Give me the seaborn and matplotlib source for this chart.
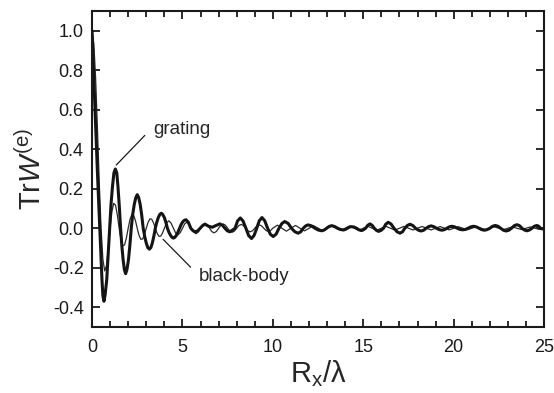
import numpy as np
import pandas as pd
import seaborn as sns
import matplotlib
matplotlib.use('Agg')
import matplotlib.pyplot as plt
from matplotlib.ticker import MultipleLocator

# black-body curve (thin line)
bb_x = np.concatenate([np.arange(0, 4.01, 0.1),
                       np.arange(4.125, 10.001, 0.125),
                       np.arange(10.25, 25.01, 0.25)])
bb_y = [1.0, 0.9355, 0.7568, 0.5046, 0.2339, 0.0, -0.1559, -0.2162, -0.1892, -0.1039,
        0.0, 0.0850, 0.1261, 0.1164, 0.0668, 0.0, -0.0585, -0.0890, -0.0841, -0.0492,
        0.0, 0.0446, 0.0688, 0.0658, 0.0390, 0.0, -0.0360, -0.0561, -0.0541, -0.0323,
        0.0, 0.0302, 0.0473, 0.0459, 0.0275, 0.0, -0.0260, -0.0409, -0.0398, -0.0240,
        0.0,
        0.0273, 0.0374, 0.0257, 0.0, -0.0243, -0.0335, -0.0231, 0.0,
        0.0220, 0.0303, 0.0209, 0.0, -0.0200, -0.0277, -0.0192, 0.0,
        0.0184, 0.0255, 0.0177, 0.0, -0.0170, -0.0236, -0.0164, 0.0,
        0.0158, 0.0220, 0.0153, 0.0, -0.0148, -0.0205, -0.0143, 0.0,
        0.0139, 0.0193, 0.0134, 0.0, -0.0130, -0.0182, -0.0127, 0.0,
        0.0123, 0.0172, 0.0120, 0.0, -0.0117, -0.0163, -0.0114, 0.0,
        0.0155, 0.0, -0.0148, 0.0, 0.0141, 0.0, -0.0135, 0.0, 0.0130, 0.0, -0.0125, 0.0,
        0.0120, 0.0, -0.0116, 0.0, 0.0112, 0.0, -0.0108, 0.0, 0.0104, 0.0, -0.0101, 0.0,
        0.0098, 0.0, -0.0095, 0.0, 0.0092, 0.0, -0.0090, 0.0, 0.0087, 0.0, -0.0085, 0.0,
        0.0083, 0.0, -0.0081, 0.0, 0.0079, 0.0, -0.0077, 0.0, 0.0075, 0.0, -0.0073, 0.0,
        0.0072, 0.0, -0.0070, 0.0, 0.0068, 0.0, -0.0067, 0.0, 0.0066, 0.0, -0.0064, 0.0]

# grating curve (thick line)
gr_x = [0.0, 0.1, 0.2, 0.3, 0.4, 0.45, 0.5, 0.55, 0.6, 0.66, 0.72, 0.815, 0.9, 0.97,
        1.05, 1.13, 1.21, 1.29, 1.37, 1.435, 1.51, 1.58, 1.65, 1.72, 1.79, 1.86, 1.93,
        2.015, 2.09, 2.17, 2.25, 2.335, 2.42, 2.5, 2.58, 2.665, 2.75, 2.83, 2.92, 3.0,
        3.085, 3.17, 3.255, 3.335, 3.42, 3.5, 3.58, 3.665, 3.75, 3.83, 3.91, 4.0, 4.085,
        4.17, 4.25, 4.335, 4.42, 4.5, 4.585, 4.67, 4.755, 4.84, 4.92, 5.0, 5.1, 5.2,
        5.33, 5.46, 5.59, 5.72, 5.85, 5.98, 6.12, 6.25, 6.45, 6.65, 6.86, 7.07, 7.21,
        7.35, 7.48, 7.62, 7.76, 7.91, 8.05, 8.2, 8.35, 8.51, 8.66, 8.82, 8.96, 9.11,
        9.25, 9.4, 9.55, 9.71, 9.86, 10.02, 10.18, 10.34, 10.5, 10.66, 10.85, 11.03,
        11.22, 11.4, 11.54, 11.68, 11.82, 11.95, 12.14, 12.33, 12.51, 12.7, 12.84,
        12.98, 13.11, 13.25, 13.41, 13.58, 13.74, 13.9, 14.01, 14.13, 14.24, 14.35,
        14.49, 14.63, 14.76, 14.9, 15.01, 15.13, 15.25, 15.37, 15.49, 15.61, 15.73,
        15.85, 15.98, 16.12, 16.25, 16.38, 16.54, 16.7, 16.87, 17.03, 17.17, 17.3,
        17.44, 17.58, 17.74, 17.89, 18.05, 18.2, 18.34, 18.48, 18.61, 18.75, 18.9,
        19.05, 19.2, 19.35, 19.49, 19.62, 19.76, 19.9, 20.05, 20.2, 20.35, 20.5, 20.65,
        20.8, 20.95, 21.1, 21.25, 21.4, 21.55, 21.7, 21.85, 22.0, 22.15, 22.3, 22.45,
        22.6, 22.75, 22.9, 23.05, 23.2, 23.35, 23.5, 23.64, 23.78, 23.91, 24.05, 24.19,
        24.33, 24.46, 24.6, 24.7, 24.8, 24.9, 25.0]
gr_y = [1.0, 0.76, 0.52, 0.28, 0.06, -0.05, -0.16, -0.26, -0.34, -0.37, -0.34, -0.26,
        -0.12, 0.0, 0.12, 0.21, 0.28, 0.30, 0.28, 0.21, 0.11, 0.0, -0.09, -0.16, -0.21,
        -0.23, -0.21, -0.16, -0.09, 0.0, 0.07, 0.12, 0.155, 0.17, 0.155, 0.12, 0.065, 0.0,
        -0.045, -0.075, -0.098, -0.106, -0.098, -0.075, -0.04, 0.0, 0.03, 0.054, 0.07,
        0.076, 0.07, 0.054, 0.03, 0.0, -0.02, -0.035, -0.046, -0.05, -0.046, -0.035,
        -0.019, 0.0, 0.017, 0.03, 0.04, 0.043,
        0.03, 0.0, -0.013, -0.018, -0.013, 0.0, 0.014, 0.02, 0.01, 0.005, 0.014, 0.022,
        0.015, 0.0, -0.013, -0.018, -0.01, 0.0, 0.037, 0.052, 0.037, 0.0, -0.037, -0.052,
        -0.037, 0.0, 0.038, 0.054, 0.038, 0.0, -0.03, -0.042, -0.03, 0.0, 0.024, 0.034,
        0.024, 0.0, -0.018, -0.025, -0.018, 0.0, 0.012, 0.017, 0.012, 0.0, -0.009,
        -0.013, -0.009, 0.0, 0.009, 0.013, 0.009, 0.0, -0.006, -0.009, -0.006, 0.0,
        0.006, 0.008, 0.006, 0.0, -0.008, -0.012, -0.008, 0.0, 0.015, 0.022, 0.015, 0.0,
        -0.011, -0.016, -0.011, 0.0, 0.021, 0.03, 0.021, 0.0, -0.018, -0.025, -0.018,
        0.0, 0.014, 0.02, 0.014, 0.0, -0.01, -0.014, -0.01, 0.0, 0.008, 0.012, 0.008,
        0.0, -0.007, -0.01, -0.007, 0.0, 0.007, 0.01, 0.007, 0.0, -0.006, -0.008, -0.006,
        0.0, 0.007, 0.01, 0.007, 0.0, -0.007, -0.01, -0.007, 0.0, 0.01, 0.014, 0.01,
        0.0, -0.01, -0.014, -0.01, 0.0, 0.013, 0.018, 0.013, 0.0, -0.009, -0.013, -0.009,
        0.0, 0.01, 0.014, 0.01, 0.0, -0.003, -0.004]

bb = pd.DataFrame({'x': bb_x, 'y': bb_y})
gr = pd.DataFrame({'x': gr_x, 'y': gr_y})

sns.set_style('ticks')
plt.rcParams['font.family'] = ['Liberation Sans', 'DejaVu Sans']
plt.rcParams['mathtext.fontset'] = 'custom'
plt.rcParams['mathtext.rm'] = 'Liberation Sans'
plt.rcParams['mathtext.it'] = 'Liberation Sans:italic'

fig = plt.figure(figsize=(5.54, 3.93), dpi=100)
ax = fig.add_axes([0.1661, 0.168, 0.816, 0.804])

sns.lineplot(data=bb, x='x', y='y', sort=False, estimator=None, color='#2a2a2a', lw=0.9, ax=ax)
sns.lineplot(data=gr, x='x', y='y', sort=False, estimator=None, color='#141414', lw=2.2, ax=ax)

ax.set_xlim(0, 25)
ax.set_ylim(-0.5, 1.1)
ax.xaxis.set_major_locator(MultipleLocator(5))
ax.xaxis.set_minor_locator(MultipleLocator(1))
ax.set_yticks(np.arange(-0.4, 1.01, 0.2))
ax.set_yticklabels(['-0.4', '-0.2', '0.0', '0.2', '0.4', '0.6', '0.8', '1.0'])

ax.tick_params(which='both', direction='in', top=True, right=True, colors='#1a1a1a',
               labelsize=13, width=1.3)
ax.tick_params(which='major', length=6)
ax.tick_params(which='minor', length=4)
ax.tick_params(axis='x', pad=9)
ax.tick_params(axis='y', pad=6)
for s in ax.spines.values():
    s.set_linewidth(1.5)
    s.set_color('#1a1a1a')

ax.set_xlabel('R$_\\mathrm{x}$/λ', fontsize=21, labelpad=1)
ax.set_ylabel('Tr$W^{\\mathrm{(e)}}$', fontsize=21, labelpad=4)

ax.text(3.36, 0.50, 'grating', fontsize=13.5, ha='left', va='center')
ax.annotate('', xy=(1.34, 0.32), xytext=(2.92, 0.47),
            arrowprops=dict(arrowstyle='-', lw=0.9, color='#1a1a1a', shrinkA=0, shrinkB=0))
ax.text(5.9, -0.245, 'black-body', fontsize=13.5, ha='left', va='center')
ax.annotate('', xy=(3.93, -0.056), xytext=(5.45, -0.197),
            arrowprops=dict(arrowstyle='-', lw=0.9, color='#1a1a1a', shrinkA=0, shrinkB=0))

fig.savefig('out.png', dpi=100)
